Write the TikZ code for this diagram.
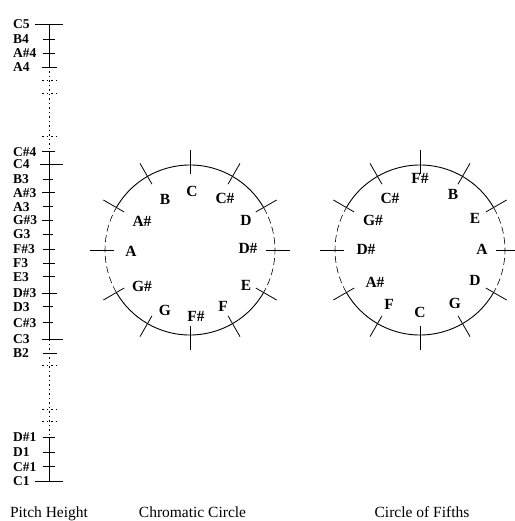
\documentclass[tikz,border=0pt]{standalone}
\usepackage{fontspec}
\setmainfont{Liberation Serif}
\usetikzlibrary{calc}
\newcommand\pitchrow[5]{%
  \node[plab] (#1) at (13,#3+4.6) {#2};
  \draw[tk] (#4,#3) -- (#5,#3);}
\begin{document}
\begin{tikzpicture}[x=1pt,y=-1pt,
  note/.style={font=\fontsize{15.5}{15.5}\selectfont\bfseries, inner sep=0pt},
  plab/.style={font=\fontsize{13.5}{13.5}\selectfont\bfseries, inner sep=0pt, anchor=base west},
  capt/.style={font=\fontsize{15.5}{15.5}\selectfont, inner sep=0pt, anchor=base},
  circ/.style={line width=0.9pt},
  tk/.style={line width=0.8pt},
  dsh/.style={line width=0.6pt, dash pattern=on 7pt off 3.5pt},
  axdot/.style={line width=0.7pt, dash pattern=on 1.5pt off 3pt},
]
\useasboundingbox (0,0) rectangle (514,521);

% ---------------- Pitch height axis ----------------
\coordinate (ax1) at (49,24);
\coordinate (ax2) at (49,67);
\coordinate (ax3) at (49,151.7);
\coordinate (ax4) at (49,339.3);
\coordinate (ax5) at (49,437.3);
\coordinate (ax6) at (49,481);
\draw[line width=0.6pt] (ax1) -- (ax2);
\draw[axdot] (ax2) -- (ax3);
\draw[line width=0.6pt] (ax3) -- (ax4);
\draw[axdot] (ax4) -- (ax5);
\draw[line width=0.6pt] (ax5) -- (ax6);
\foreach \yy in {80.7,93.3,136.7,365,409.3,421.7}
  \draw[axdot] (42,\yy) -- (57,\yy);

\pitchrow{C5}{C5}{24}{35}{63}
\pitchrow{B4}{B4}{39}{43}{55}
\pitchrow{As4}{A\#4}{53}{43}{55}
\pitchrow{A4}{A4}{67}{42}{57}
\pitchrow{Cs4}{C\#4}{151.7}{42}{55}
\pitchrow{C4}{C4}{164.3}{40}{63}
\pitchrow{B3}{B3}{179.3}{43}{53}
\pitchrow{As3}{A\#3}{192.7}{42}{55}
\pitchrow{A3}{A3}{206.7}{43}{53}
\pitchrow{Gs3}{G\#3}{220}{42}{53}
\pitchrow{G3}{G3}{234.3}{43}{53}
\pitchrow{Fs3}{F\#3}{249}{43}{55}
\pitchrow{F3}{F3}{263.3}{43}{55}
\pitchrow{E3}{E3}{276.7}{43}{55}
\pitchrow{Ds3}{D\#3}{293.3}{42}{57}
\pitchrow{D3}{D3}{306.7}{43}{53}
\pitchrow{Cs3}{C\#3}{322.7}{43}{53}
\pitchrow{C3}{C3}{339.3}{42}{63}
\pitchrow{B2}{B2}{353.3}{43}{57}
\pitchrow{Ds1}{D\#1}{437.3}{43}{55}
\pitchrow{D1}{D1}{452.3}{43}{55}
\pitchrow{Cs1}{C\#1}{466.7}{43}{55}
\pitchrow{C1}{C1}{481}{35}{63}

% ---------------- Circles ----------------
\coordinate (cc) at (190,250);
\coordinate (cf) at (420,250);
\foreach \c in {cc,cf}{
  \draw[circ] ($(\c)+(-150:85)$) arc[start angle=-150, end angle=-30, radius=85];
  \draw[circ] ($(\c)+(30:85)$) arc[start angle=30, end angle=150, radius=85];
  \draw[dsh] ($(\c)+(-30:85)$) arc[start angle=-30, end angle=30, radius=85];
  \draw[dsh] ($(\c)+(150:85)$) arc[start angle=150, end angle=210, radius=85];
  \foreach \i in {0,...,11}
    \draw[tk] ($(\c)+(-90+30*\i:76)$) -- ($(\c)+(-90+30*\i:100)$);
}

% chromatic circle labels
\node[note] (ch1) at (192,191) {C};
\node[note] (ch2) at (225,198) {C\#};
\node[note] (ch3) at (246,220) {D};
\node[note] (ch4) at (248,248) {D\#};
\node[note] (ch5) at (246,285) {E};
\node[note] (ch6) at (223,306) {F};
\node[note] (ch7) at (196,316) {F\#};
\node[note] (ch8) at (165,310) {G};
\node[note] (ch9) at (142,286) {G\#};
\node[note] (ch10) at (131,251) {A};
\node[note] (ch11) at (142,221) {A\#};
\node[note] (ch12) at (165,199) {B};

% circle of fifths labels
\node[note] (cf1) at (420,178) {F\#};
\node[note] (cf2) at (453,194) {B};
\node[note] (cf3) at (475,218) {E};
\node[note] (cf4) at (482,249) {A};
\node[note] (cf5) at (475,280) {D};
\node[note] (cf6) at (455,303) {G};
\node[note] (cf7) at (420,312) {C};
\node[note] (cf8) at (389,304) {F};
\node[note] (cf9) at (375,282) {A\#};
\node[note] (cf10) at (366,249) {D\#};
\node[note] (cf11) at (373,220) {G\#};
\node[note] (cf12) at (390,198) {C\#};

% captions
\node[capt] (t1) at (49,517) {Pitch Height};
\node[capt] (t2) at (192.5,517) {Chromatic Circle};
\node[capt] (t3) at (422,517) {Circle of Fifths};
\end{tikzpicture}
\end{document}
